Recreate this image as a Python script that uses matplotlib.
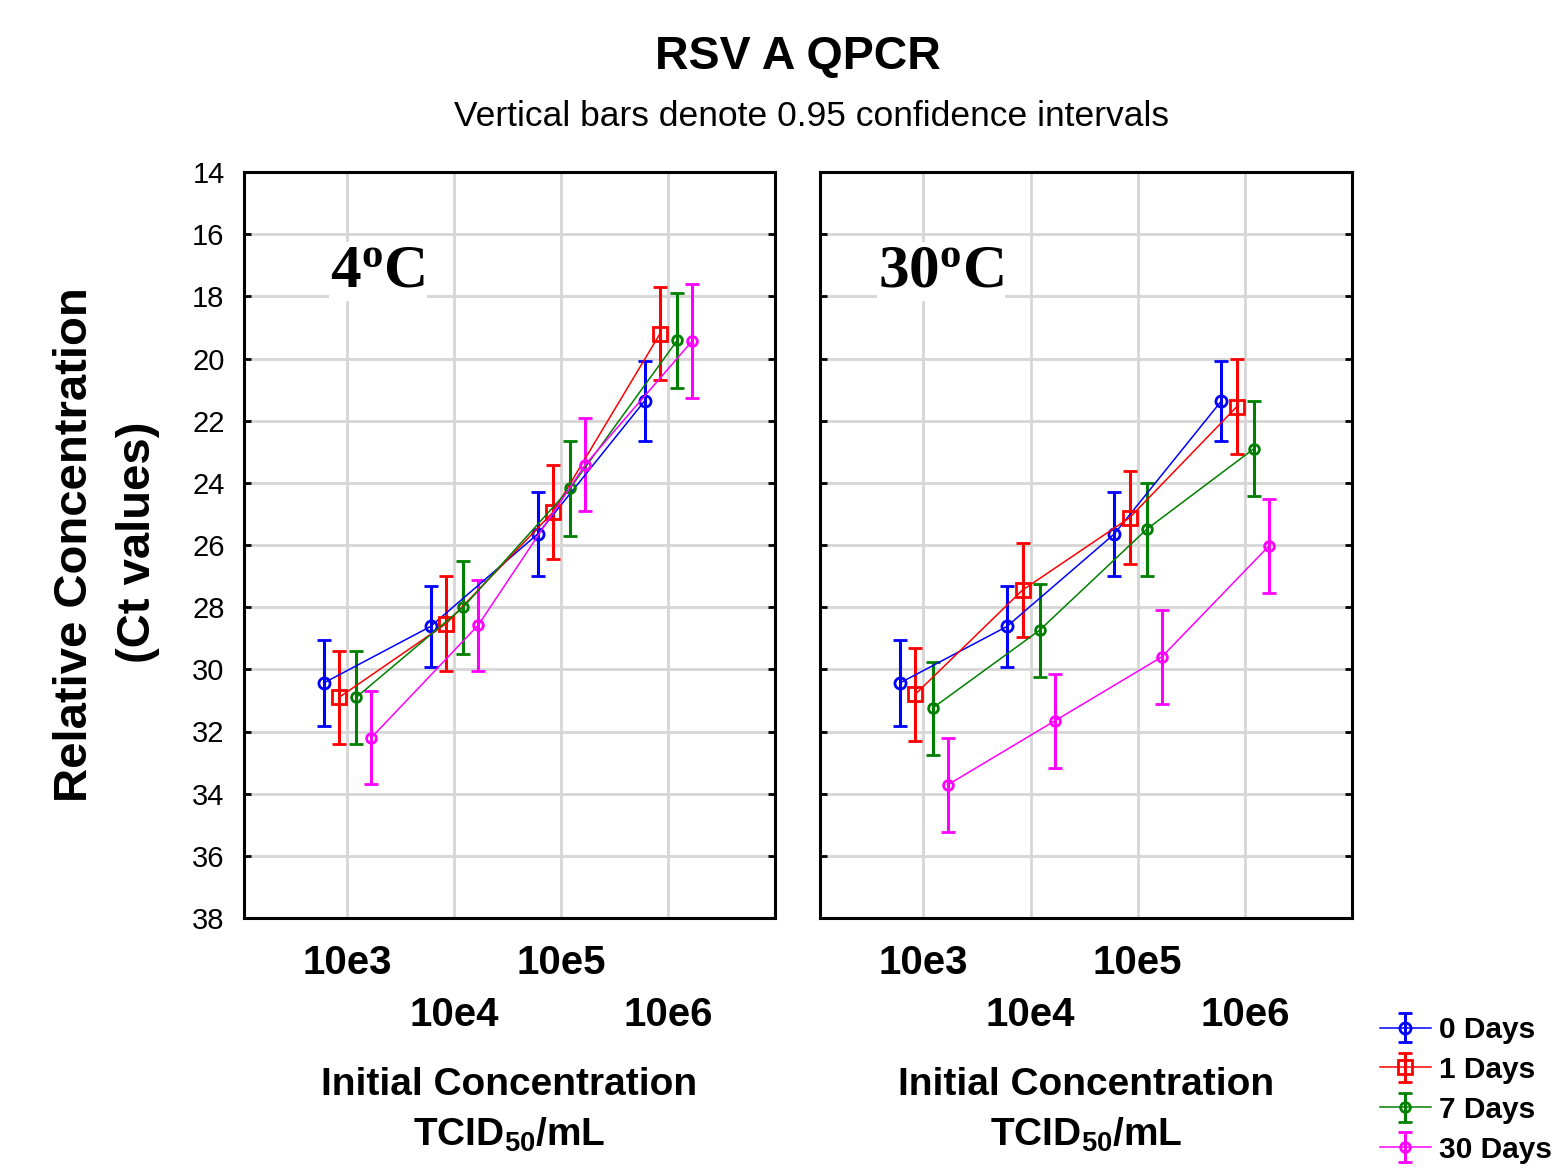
import matplotlib
matplotlib.use("Agg")
import matplotlib.pyplot as plt

# data (Ct values, mean and 95% CI half-width)
CONC_LABELS = ["10e3", "10e4", "10e5", "10e6"]
SERIES = ["0 Days", "1 Days", "7 Days", "30 Days"]

COLD_MEAN_0 = [30.44, 28.62, 25.65, 21.37]
COLD_MEAN_1 = [30.90, 28.53, 24.94, 19.20]
COLD_MEAN_7 = [30.90, 28.00, 24.17, 19.42]
COLD_MEAN_30 = [32.20, 28.58, 23.42, 19.44]
COLD_CI_0 = [1.37, 1.30, 1.35, 1.30]
COLD_CI_1 = [1.50, 1.52, 1.50, 1.50]
COLD_CI_7 = [1.50, 1.50, 1.53, 1.52]
COLD_CI_30 = [1.50, 1.47, 1.50, 1.83]

WARM_MEAN_0 = [30.44, 28.62, 25.65, 21.37]
WARM_MEAN_1 = [30.80, 27.45, 25.12, 21.55]
WARM_MEAN_7 = [31.25, 28.74, 25.49, 22.90]
WARM_MEAN_30 = [33.72, 31.66, 29.60, 26.03]
WARM_CI_0 = [1.37, 1.30, 1.35, 1.30]
WARM_CI_1 = [1.50, 1.50, 1.50, 1.52]
WARM_CI_7 = [1.50, 1.50, 1.50, 1.52]
WARM_CI_30 = [1.50, 1.50, 1.50, 1.50]

COLORS = ["#0000ff", "#ff0000", "#008000", "#ff00ff"]
MARKERS = ["o", "s", "o", "o"]
MSIZES = [8, 10, 7, 7]
OFFSETS = [-0.22, -0.075, 0.085, 0.225]
GRID = "#d6d6d6"

plt.rcParams["font.family"] = ["Liberation Sans", "DejaVu Sans"]
plt.rcParams["mathtext.fontset"] = "custom"
plt.rcParams["mathtext.bf"] = "Liberation Serif:bold"
plt.rcParams["mathtext.rm"] = "Liberation Sans:bold"

W, H = 1557, 1168
fig = plt.figure(figsize=(W / 100, H / 100), dpi=100)
fig.patch.set_facecolor("white")


def add_panel(x0, x1, means, cis, tag, tag_x, show_labels):
    ax = fig.add_axes([x0 / W, 1 - 918 / H, (x1 - x0) / W, (918 - 172) / H])
    handles = []
    for i in range(4):
        xs = [k + OFFSETS[i] for k in range(len(CONC_LABELS))]
        h = ax.errorbar(xs, means[i], yerr=cis[i], color=COLORS[i], lw=1.1,
                        marker=MARKERS[i], ms=MSIZES[i], mfc="none", mew=2,
                        elinewidth=2.2, capsize=5, capthick=2.2, label=SERIES[i],
                        zorder=3)
        handles.append(h)
    ax.set_xlim(-0.965, 4.0)
    ax.set_ylim(38, 14)
    ax.set_yticks(range(14, 39, 2))
    ax.set_xticks(range(4))
    ax.set_xticklabels([lab if k % 2 == 0 else "\n" + lab for k, lab in enumerate(CONC_LABELS)],
                       fontsize=29, fontweight="bold", linespacing=1.45)
    ax.tick_params(axis="x", length=0, pad=19)
    ax.tick_params(axis="y", direction="in", length=5, width=2, left=True, right=True,
                   labelsize=21, pad=14, labelleft=show_labels)
    ax.grid(True, color=GRID, lw=2)
    ax.set_axisbelow(True)
    for s in ax.spines.values():
        s.set_linewidth(2.2)
    ax.text(tag_x, 0.846, tag, transform=ax.transAxes, fontsize=44, va="baseline",
            ha="left", zorder=5,
            bbox=dict(facecolor="white", edgecolor="none", pad=1))
    fig.text((x0 + x1) / 2 / W, 1 - 1067 / H, "Initial Concentration\nTCID$_{\\mathregular{50}}$/mL",
             ha="center", va="top", fontsize=28, fontweight="bold", linespacing=1.42)
    return handles


cold = add_panel(244, 775, [COLD_MEAN_0, COLD_MEAN_1, COLD_MEAN_7, COLD_MEAN_30],
                 [COLD_CI_0, COLD_CI_1, COLD_CI_7, COLD_CI_30],
                 r"$\mathbf{4^{o}C}$", 0.162, True)
add_panel(820, 1352, [WARM_MEAN_0, WARM_MEAN_1, WARM_MEAN_7, WARM_MEAN_30],
          [WARM_CI_0, WARM_CI_1, WARM_CI_7, WARM_CI_30],
          r"$\mathbf{30^{o}C}$", 0.109, False)

fig.text(798 / W, 1 - 57 / H, "RSV A QPCR", ha="center", va="center",
         fontsize=33.5, fontweight="bold")
fig.text(812 / W, 1 - 116 / H, "Vertical bars denote 0.95 confidence intervals",
         ha="center", va="center", fontsize=25.5)

fig.text(75 / W, 1 - 545 / H, "Relative Concentration", rotation=90, ha="center",
         va="center", fontsize=34, fontweight="bold")
fig.text(138 / W, 1 - 542 / H, "(Ct values)", rotation=90, ha="center",
         va="center", fontsize=34, fontweight="bold")

fig.legend(handles=cold, labels=SERIES, loc="upper left",
           bbox_to_anchor=(1380 / W, 1 - 1016 / H), frameon=False,
           prop={"weight": "bold", "size": 21.5}, handlelength=1.7, handletextpad=0.28,
           labelspacing=0.4, borderpad=0, borderaxespad=0)

fig.savefig("out.png", dpi=100, facecolor="white")
